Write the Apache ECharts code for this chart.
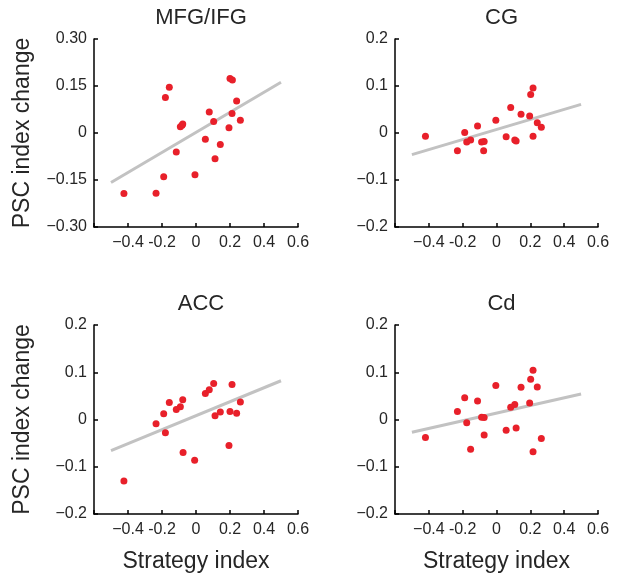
<!DOCTYPE html>
<html>
<head>
<meta charset="utf-8">
<script src="https://cdn.jsdelivr.net/npm/echarts@6/dist/echarts.min.js"></script>
<style>html,body{margin:0;padding:0;background:#fff;}#c{width:619px;height:584px;}</style>
</head>
<body>
<div id="c"></div>
<script>
// Panel titles
const titles = ['MFG/IFG', 'CG', 'ACC', 'Cd'];
const xName = 'Strategy index';
const yName = 'PSC index change';

// Scatter points [strategy index, PSC index change]
const mfgIfg = [[-0.424,-0.193],[-0.235,-0.192],[-0.190,-0.140],[-0.180,0.113],[-0.157,0.146],[-0.116,-0.061],[-0.092,0.020],[-0.082,0.025],[-0.078,0.029],[-0.006,-0.133],[0.055,-0.020],[0.078,0.067],[0.104,0.037],[0.112,-0.082],[0.143,-0.037],[0.194,0.017],[0.200,0.174],[0.214,0.169],[0.212,0.062],[0.239,0.102],[0.261,0.041]];
const cg = [[-0.420,-0.007],[-0.231,-0.038],[-0.188,0.001],[-0.176,-0.019],[-0.153,-0.015],[-0.112,0.015],[-0.088,-0.019],[-0.073,-0.018],[-0.076,-0.038],[-0.004,0.027],[0.057,-0.008],[0.084,0.054],[0.108,-0.015],[0.116,-0.017],[0.145,0.040],[0.196,0.036],[0.202,0.082],[0.216,0.096],[0.216,-0.007],[0.241,0.022],[0.265,0.012]];
const acc = [[-0.424,-0.130],[-0.235,-0.009],[-0.190,0.012],[-0.180,-0.028],[-0.157,0.036],[-0.116,0.021],[-0.092,0.027],[-0.078,0.042],[-0.076,-0.070],[-0.008,-0.086],[0.055,0.055],[0.078,0.063],[0.104,0.076],[0.112,0.008],[0.143,0.016],[0.194,-0.055],[0.200,0.017],[0.212,0.074],[0.239,0.013],[0.261,0.037]];
const cd = [[-0.420,-0.038],[-0.231,0.017],[-0.188,0.046],[-0.176,-0.007],[-0.153,-0.063],[-0.112,0.039],[-0.088,0.005],[-0.073,0.004],[-0.073,-0.033],[-0.004,0.072],[0.057,-0.023],[0.084,0.026],[0.108,0.032],[0.116,-0.018],[0.145,0.068],[0.196,0.035],[0.202,0.085],[0.216,0.104],[0.216,-0.068],[0.241,0.069],[0.265,-0.040]];

// Fit line end points
const fitMfgIfg = [[-0.5,-0.158],[0.5,0.162]];
const fitCg = [[-0.5,-0.046],[0.5,0.061]];
const fitAcc = [[-0.5,-0.066],[0.5,0.082]];
const fitCd = [[-0.5,-0.027],[0.5,0.054]];

// Axis ranges / ticks
const xMin = -0.6, xMax = 0.6, xStep = 0.2;
const yRanges = [[-0.30,0.30,0.15],[-0.2,0.2,0.1],[-0.2,0.2,0.1],[-0.2,0.2,0.1]];

const panels = [mfgIfg, cg, acc, cd];
const fits = [fitMfgIfg, fitCg, fitAcc, fitCd];

const grids = [
  {left:94, top:39, width:204, height:188},
  {left:395, top:39, width:203, height:188},
  {left:94, top:325, width:204, height:189},
  {left:395, top:325, width:203, height:189}
];

const FONT = '"Liberation Sans", Arial, Helvetica, sans-serif';
const TXT = '#262626';

function xLabel(v){
  const r = Math.round(v*10)/10;
  if (r <= -0.59) return '';
  if (r === 0) return '0';
  if (r === -0.4) return '\u22120.4';
  if (r === -0.2) return '-0.2';
  return r.toFixed(1);
}
function yLabelFn(dec){
  return function(v){
    const r = Math.round(v*1000)/1000;
    if (r === 0) return '0';
    const s = Math.abs(r).toFixed(dec);
    return (r < 0 ? '\u2212' : '') + s;
  };
}

const xAxis = [], yAxis = [], series = [], title = [];
for (let i=0;i<4;i++){
  xAxis.push({
    type:'value', gridIndex:i, min:xMin, max:xMax, interval:xStep,
    axisLine:{show:true, onZero:false, lineStyle:{color:'#000', width:1.5}},
    axisTick:{show:true, inside:true, length:4, lineStyle:{color:'#000', width:1.5}},
    axisLabel:{formatter:xLabel, color:TXT, fontSize:16, fontFamily:FONT, margin:8, showMinLabel:true},
    splitLine:{show:false}
  });
  const yr = yRanges[i];
  yAxis.push({
    type:'value', gridIndex:i, min:yr[0], max:yr[1], interval:yr[2],
    axisLine:{show:true, onZero:false, lineStyle:{color:'#000', width:1.5}},
    axisTick:{show:true, inside:true, length:4, lineStyle:{color:'#000', width:1.5}},
    axisLabel:{formatter:yLabelFn(i===0?2:1), color:TXT, fontSize:16, fontFamily:FONT, margin:7},
    splitLine:{show:false}
  });
  series.push({
    type:'line', xAxisIndex:i, yAxisIndex:i, data:fits[i], symbol:'none',
    lineStyle:{color:'#c2c2c2', width:3}, silent:true, z:2
  });
  series.push({
    type:'scatter', xAxisIndex:i, yAxisIndex:i, data:panels[i], symbolSize:7,
    itemStyle:{color:'#e8202a', opacity:1}, z:3
  });
  const g = grids[i];
  title.push({
    text:titles[i], left: g.left + g.width/2, top: g.top - 37, textAlign:'center',
    textStyle:{fontFamily:FONT, fontSize:22, fontWeight:'normal', color:TXT}
  });
}

const graphic = [];
[0,2].forEach(i=>{
  const g = grids[i];
  graphic.push({type:'text', x:23, y:g.top+g.height/2, rotation:Math.PI/2,
    style:{text:yName, font:'23px '+FONT, fill:TXT, textAlign:'center', textVerticalAlign:'middle'}});
});
[2,3].forEach(i=>{
  const g = grids[i];
  graphic.push({type:'text', x:g.left+g.width/2, y:562,
    style:{text:xName, font:'23px '+FONT, fill:TXT, textAlign:'center', textVerticalAlign:'middle'}});
});

const chart = echarts.init(document.getElementById('c'), null, {renderer:'canvas'});
chart.setOption({
  animation:false, backgroundColor:'#fff',
  title, grid:grids, xAxis, yAxis, series, graphic
});
</script>
</body>
</html>
